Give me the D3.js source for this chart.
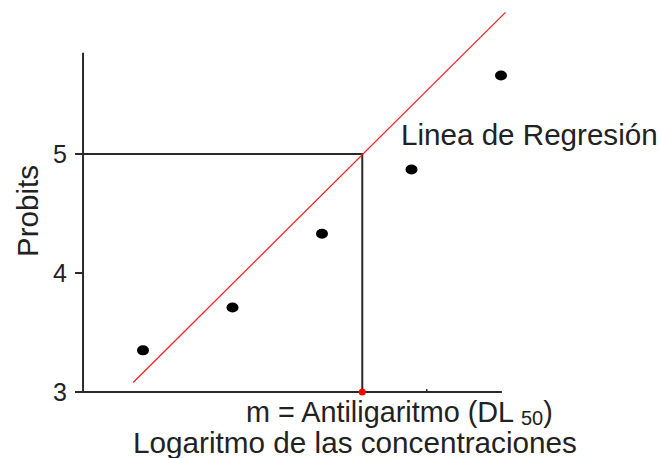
<!DOCTYPE html>
<html>
<head>
<meta charset="utf-8">
<script src="https://cdn.jsdelivr.net/npm/d3@7"></script>
<style>
	body { margin: 0; background: #fff; }
	svg text { font-family: "Liberation Sans", Arial, sans-serif; fill: #222; }
</style>
</head>
<body>
<div id="chart"></div>
<script>
// log concentration (x) and probit (y) of the points
var logConc = [1, 2, 3, 4, 5];
var probits = [3.35, 3.71, 4.33, 4.87, 5.66];

// regression line end points
var regX = [0.89, 5.05];
var regY = [3.08, 6.19];

var ld50 = 3.45;        // x where the regression reaches probit 5
var yTicks = [3, 4, 5];
var xTicks = [4.17];
var xExtent = [0.33, 5.01];
var yTop = 5.85;

var width = 661, height = 458;

var svg = d3.select("#chart")
	.append("svg")
		.attr("width", width)
		.attr("height", height);

var x = d3.scaleLinear().domain([1, 5]).range([143, 501]);
var y = d3.scaleLinear().domain([3, 5]).range([392, 154]);

var ink = "#2a2a2a";

// axes
svg.append("line")
	.attr("x1", x(xExtent[0])).attr("y1", y(3))
	.attr("x2", x(xExtent[0])).attr("y2", y(yTop))
	.attr("stroke", ink).attr("stroke-width", 2);

svg.append("line")
	.attr("x1", x(xExtent[0]) - 8).attr("y1", y(3))
	.attr("x2", x(xExtent[1])).attr("y2", y(3))
	.attr("stroke", ink).attr("stroke-width", 2);

// y ticks
svg.selectAll(".ytick")
	.data(yTicks)
	.enter().append("line")
		.attr("x1", x(xExtent[0]) - 8).attr("x2", x(xExtent[0]))
		.attr("y1", function(d) { return y(d); })
		.attr("y2", function(d) { return y(d); })
		.attr("stroke", ink).attr("stroke-width", 2);

svg.selectAll(".ylab")
	.data(yTicks)
	.enter().append("text")
		.attr("x", 67)
		.attr("y", function(d) { return y(d) + 9; })
		.attr("text-anchor", "end")
		.style("font-size", "25px")
		.text(function(d) { return d; });

// small x tick
svg.selectAll(".xtick")
	.data(xTicks)
	.enter().append("line")
		.attr("x1", function(d) { return x(d); })
		.attr("x2", function(d) { return x(d); })
		.attr("y1", y(3) - 3).attr("y2", y(3))
		.attr("stroke", ink).attr("stroke-width", 1.5);

// guide lines to LD50
svg.append("path")
	.attr("d", "M" + x(xExtent[0]) + "," + y(5) +
		"H" + x(ld50) + "V" + y(3))
	.attr("fill", "none")
	.attr("stroke", ink)
	.attr("stroke-width", 2);

// regression line
svg.append("line")
	.attr("x1", x(regX[0])).attr("y1", y(regY[0]))
	.attr("x2", x(regX[1])).attr("y2", y(regY[1]))
	.attr("stroke", "#ff2020")
	.attr("stroke-width", 1.3);

svg.append("circle")
	.attr("cx", x(ld50)).attr("cy", y(3))
	.attr("r", 3.5)
	.attr("fill", "#ff0000");

// points
svg.selectAll(".pt")
	.data(logConc)
	.enter().append("ellipse")
		.attr("cx", function(d) { return x(d); })
		.attr("cy", function(d, i) { return y(probits[i]); })
		.attr("rx", 6).attr("ry", 5)
		.attr("fill", "#000");

// labels
svg.append("text")
	.attr("x", 401).attr("y", 145)
	.style("font-size", "29.6px")
	.text("Linea de Regresión");

var m = svg.append("text")
	.attr("x", 246).attr("y", 422)
	.style("font-size", "28.8px");
m.append("tspan").text("m = Antiligaritmo (DL ");
m.append("tspan").attr("dy", 3).style("font-size", "20px").text("50");
m.append("tspan").attr("dy", -3).text(")");

svg.append("text")
	.attr("x", 133).attr("y", 453)
	.style("font-size", "29.7px")
	.text("Logaritmo de las concentraciones");

svg.append("text")
	.attr("transform", "translate(38,211) rotate(-90)")
	.attr("text-anchor", "middle")
	.style("font-size", "29.5px")
	.text("Probits");
</script>
</body>
</html>
